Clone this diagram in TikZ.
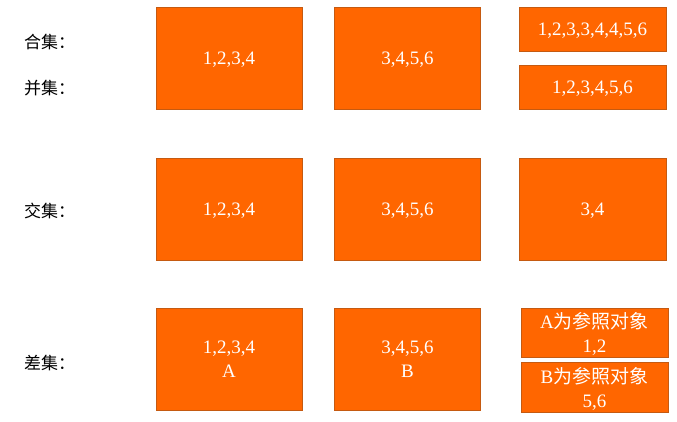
\documentclass[tikz,border=0pt]{standalone}
\usepackage{fontspec}
\setmainfont{Liberation Serif}
\newfontfamily\cjk{Noto Sans CJK SC}
\definecolor{setfill}{HTML}{FF6600}
\definecolor{setedge}{HTML}{C55A11}
\begin{document}
\begin{tikzpicture}[x=1pt, y=-1pt,
  setbox/.style={draw=setedge, fill=setfill, text=white, align=center,
    inner sep=0pt, text depth=0pt, font=\fontsize{19}{24}\selectfont},
  bigbox/.style={setbox, minimum width=146pt, minimum height=102pt},
  smallbox/.style={setbox, minimum width=147pt},
  rowlabel/.style={anchor=west, inner sep=0pt, font=\fontsize{17}{20}\selectfont\cjk}]
  \useasboundingbox (0,0) rectangle (677,421);
  % row labels
  \node[rowlabel] (helabel) at (24,42) {合集：};
  \node[rowlabel] (binglabel) at (24,88) {并集：};
  \node[rowlabel] (jiaolabel) at (24,211) {交集：};
  \node[rowlabel] (chalabel) at (24,363) {差集：};
  % the two sets A and B, once per row
  \foreach \rw/\yy in {he/58, jiao/209}{
    \node[bigbox] (\rw A) at (229,\yy) {1,2,3,4};
    \node[bigbox] (\rw B) at (407.5,\yy) {3,4,5,6};
  }
  \node[bigbox] (chaA) at (229,359) {1,2,3,4\\A};
  \node[bigbox] (chaB) at (407.5,359) {3,4,5,6\\B};
  % results
  \node[smallbox, minimum height=44pt] (heres) at (592.5,29) {1,2,3,3,4,4,5,6};
  \node[smallbox, minimum height=44pt] (bingres) at (592.5,87) {1,2,3,4,5,6};
  \node[bigbox, minimum width=147pt] (jiaores) at (592.5,209) {3,4};
  \node[smallbox, minimum height=49pt] (chaAres) at (594.5,332.5) {A{\cjk 为参照对象}\\1,2};
  \node[smallbox, minimum height=50pt] (chaBres) at (594.5,387) {B{\cjk 为参照对象}\\5,6};
\end{tikzpicture}
\end{document}
